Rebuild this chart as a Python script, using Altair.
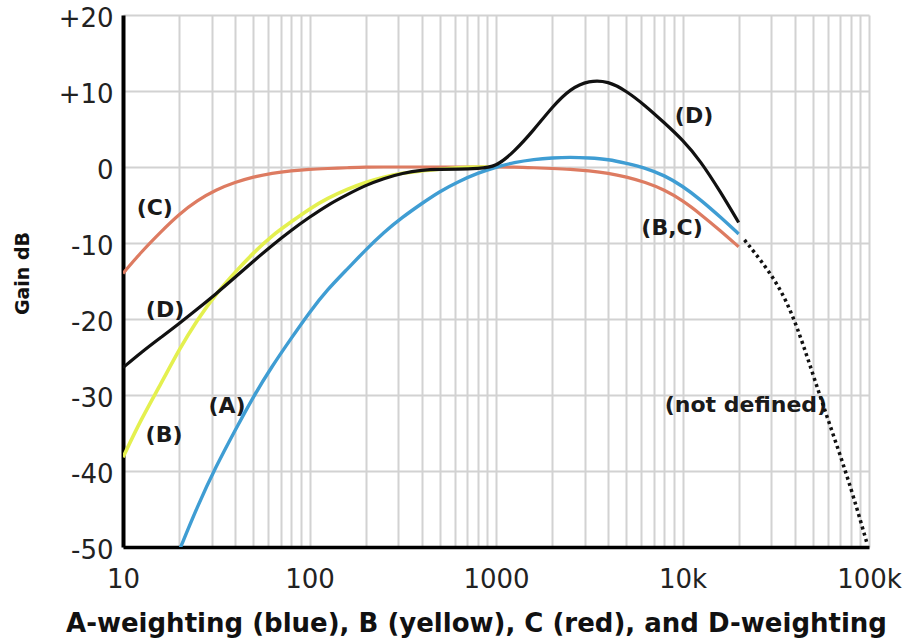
import altair as alt
import pandas as pd

# ---- data ----
a_freq = [20, 25, 31.5, 40, 50, 63, 80, 100, 125, 160, 200, 250, 315, 400, 500, 630, 800,
          1000, 1250, 1600, 2000, 2500, 3150, 4000, 5000, 6300, 8000, 10000, 12500, 16000, 20000]
a_db = [-50.5, -44.7, -39.4, -34.6, -30.2, -26.2, -22.5, -19.1, -16.1, -13.4, -10.9, -8.6, -6.6,
        -4.8, -3.2, -1.9, -0.8, 0, 0.6, 1.0, 1.2, 1.3, 1.2, 1.0, 0.5, -0.1, -1.1, -2.5, -4.3, -6.6, -8.8]

b_freq = [10, 12.5, 16, 20, 25, 31.5, 40, 50, 63, 80, 100, 125, 160, 200, 250, 315, 400, 500,
          630, 800, 1000]
b_db = [-38.2, -33.2, -28.5, -24.0, -20.1, -16.7, -13.8, -11.3, -9.0, -7.2, -5.5, -4.1, -2.9,
        -2.0, -1.3, -0.8, -0.5, -0.3, -0.1, 0, 0]

c_freq = [10, 12.5, 16, 20, 25, 31.5, 40, 50, 63, 80, 100, 125, 160, 200, 250, 315, 400, 500,
          630, 800, 1000, 1250, 1600, 2000, 2500, 3150, 4000, 5000, 6300, 8000, 10000, 12500,
          16000, 20000]
c_db = [-14.0, -11.2, -8.5, -6.2, -4.4, -3.0, -2.0, -1.3, -0.8, -0.5, -0.3, -0.2, -0.1, 0, 0, 0,
        0, 0, 0, 0, 0, 0, -0.1, -0.2, -0.3, -0.5, -0.8, -1.3, -2.0, -3.0, -4.4, -6.2, -8.4, -10.5]

d_freq = [10, 12.5, 16, 20, 25, 31.5, 40, 50, 63, 80, 100, 125, 160, 200, 250, 315, 400, 500,
          630, 800, 1000, 1250, 1600, 2000, 2500, 3150, 4000, 5000, 6300, 8000, 10000, 12500,
          16000, 20000]
d_db = [-26.4, -24.4, -22.4, -20.6, -18.7, -16.7, -14.5, -12.4, -10.3, -8.3, -6.6, -5.0, -3.6,
        -2.4, -1.5, -0.8, -0.4, -0.3, -0.3, -0.2, 0, 2.0, 4.9, 7.9, 10.3, 11.4, 11.3, 10.0, 8.1,
        5.8, 3.6, 0.8, -3.3, -7.3]

undef_freq = [21500, 32000, 41000, 54500, 76000, 97000]
undef_db = [-9.6, -14.9, -20.6, -30.2, -40.3, -49.3]

label_text = ["(C)", "(D)", "(B)", "(A)", "(D)", "(B,C)", "(not defined)"]
label_freq = [14.8, 16.8, 16.6, 36.1, 11530, 8790, 21880]
label_db = [-5.4, -18.8, -35.3, -31.4, 6.7, -8.0, -31.3]

grid_freq = [m * 10 ** e for e in range(1, 5) for m in range(1, 10)] + [100000]
y_ticks = [-50, -40, -30, -20, -10, 0, 10, 20]

# ---- chart ----
x_scale = alt.Scale(type="log", domain=[10, 100000], base=10)
y_scale = alt.Scale(domain=[-50, 20])

x_axis = alt.Axis(
    values=grid_freq,
    labelExpr="datum.value == 10 ? '10' : datum.value == 100 ? '100' : datum.value == 1000 ? '1000' : datum.value == 10000 ? '10k' : datum.value == 100000 ? '100k' : ''",
    labelOverlap=False, labelBound=False, labelFlush=False,
    ticks=False, grid=True, gridColor="#d2d2d2", gridWidth=2,
    domain=True, domainColor="#000000", domainWidth=3.5,
    labelFont="DejaVu Sans", labelFontSize=26, labelColor="#222222", labelPadding=19,
    title="A-weighting (blue), B (yellow), C (red), and D-weighting",
    titleFont="DejaVu Sans", titleFontWeight="bold", titleFontSize=26, titleColor="#111111",
    titleX=353, titleY=76, titleBaseline="middle", titleAlign="center",
)
y_axis = alt.Axis(
    values=y_ticks,
    labelExpr="datum.value > 0 ? '+' + toString(datum.value) : toString(datum.value)",
    ticks=False, grid=True, gridColor="#d2d2d2", gridWidth=2,
    domain=True, domainColor="#000000", domainWidth=4,
    labelFont="DejaVu Sans", labelFontSize=26, labelColor="#222222", labelPadding=10,
    labelOffset=3, labelOverlap=False, labelBound=False, labelFlush=False,
    title="Gain dB",
    titleFont="DejaVu Sans", titleFontWeight="bold", titleFontSize=19, titleColor="#111111",
    titleX=-101, titleY=258, titleAngle=-90, titleBaseline="middle", titleAlign="center",
)

def curve(freqs, dbs, color, width=3.2):
    df = pd.DataFrame({"f": freqs, "db": dbs})
    return alt.Chart(df).mark_line(color=color, strokeWidth=width, interpolate="basis",
                                   clip=True).encode(
        x=alt.X("f:Q", scale=x_scale, axis=x_axis),
        y=alt.Y("db:Q", scale=y_scale, axis=y_axis),
    )

red = curve(c_freq, c_db, "#dd7b61")
yellow = curve(b_freq, b_db, "#e4f04f", 3.6)
blue = curve(a_freq, a_db, "#3f9dd3", 3.4)
black = curve(d_freq, d_db, "#111111", 3.2)

undef_df = pd.DataFrame({"f": undef_freq, "db": undef_db})
dotted = alt.Chart(undef_df).mark_line(color="#111111", strokeWidth=3.5, strokeDash=[3, 3.5],
                                       interpolate="basis", clip=True).encode(
    x=alt.X("f:Q", scale=x_scale, axis=x_axis),
    y=alt.Y("db:Q", scale=y_scale, axis=y_axis),
)

lab_df = pd.DataFrame({"t": label_text, "f": label_freq, "db": label_db})
labels = alt.Chart(lab_df).mark_text(font="DejaVu Sans", fontWeight="bold", fontSize=22,
                                     color="#1a1a1a", align="center", baseline="middle").encode(
    x=alt.X("f:Q", scale=x_scale, axis=x_axis),
    y=alt.Y("db:Q", scale=y_scale, axis=y_axis),
    text="t:N",
)

chart = alt.layer(red, yellow, blue, black, labels, dotted).properties(
    width=746, height=532,
    autosize=alt.AutoSizeParams(type="none"),
    padding={"left": 123, "top": 15, "right": 48, "bottom": 92},
    background="white",
).configure_view(stroke=None)

chart.save("out.html", embed_options={"renderer": "svg", "actions": False})
